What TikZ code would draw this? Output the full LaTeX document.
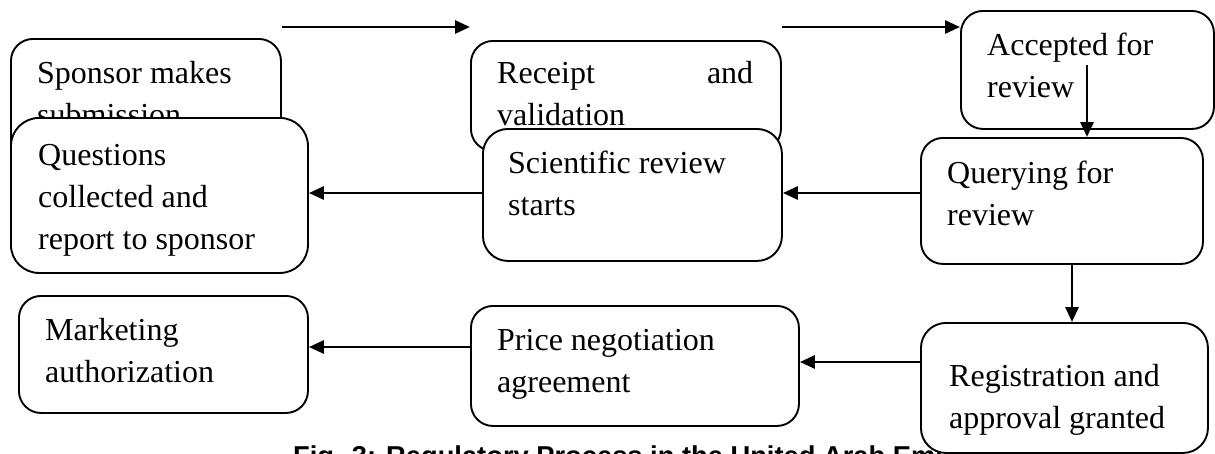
\documentclass[tikz,border=0pt]{standalone}
\usepackage{fontspec}
\setmainfont{Liberation Serif}
\newfontfamily\capfont{Liberation Sans}
\usetikzlibrary{arrows.meta}
\newcommand\stagelines[1]{\begin{tabular}[t]{@{}l@{}}#1\end{tabular}}
\begin{document}
\begin{tikzpicture}[x=1pt,y=-1pt,
  stage/.style={draw=black,line width=1.9pt,fill=white,rounded corners=22pt,
    inner sep=0pt,anchor=north west},
  stagetext/.style={anchor=base west,inner sep=0pt,font=\fontsize{32}{42}\selectfont},
  flow/.style={line width=2.8pt,-{Triangle[length=15pt,width=13pt]}}]
\useasboundingbox (0,0) rectangle (1215,453);

% caption (partly hidden behind the last box)
\node[anchor=base west,inner sep=0pt,font=\capfont\bfseries\fontsize{27.3}{30}\selectfont]
  (caption) at (293,465) {Fig. 3: Regulatory Process in the United Arab Emirates};

% first row, back layer
\node[stage,minimum width=270pt,minimum height=122pt] (spon) at (10,38) {};
\node[stagetext] (spon-t) at (37,83) {\stagelines{Sponsor makes\\submission}};
\node[stage,minimum width=310pt,minimum height=110pt] (rec) at (470,40) {};
\node[stagetext] (rec-t) at (497,83) {\stagelines{\makebox[256pt][s]{Receipt\hfill and}\\validation}};

% second row, overlapping the first
\node[stage,rounded corners=28pt,minimum width=297pt,minimum height=155pt] (ques) at (10,117) {};
\node[stagetext] (ques-t) at (38,165) {\stagelines{Questions\\collected and\\report to sponsor}};
\node[stage,rounded corners=25pt,minimum width=299pt,minimum height=132pt] (sci) at (482,128) {};
\node[stagetext] (sci-t) at (508,173) {\stagelines{Scientific review\\starts}};

% right column
\node[stage,minimum width=253pt,minimum height=118pt] (acc) at (960,10) {};
\node[stagetext] (acc-t) at (987,55) {\stagelines{Accepted for\\review}};
\node[stage,minimum width=282pt,minimum height=126pt] (qry) at (920,137) {};
\node[stagetext] (qry-t) at (947,183) {\stagelines{Querying for\\review}};

% bottom row
\node[stage,minimum width=289pt,minimum height=117pt] (mkt) at (18,295) {};
\node[stagetext] (mkt-t) at (45,340) {\stagelines{Marketing\\authorization}};
\node[stage,minimum width=328pt,minimum height=120pt] (prc) at (470,305) {};
\node[stagetext] (prc-t) at (497,350) {\stagelines{Price negotiation\\agreement}};
\node[stage,rounded corners=25pt,minimum width=287pt,minimum height=130pt] (reg) at (920,322) {};
\node[stagetext] (reg-t) at (949,386) {\stagelines{Registration and\\approval granted}};

% connector levels
\coordinate (toprow) at (0,27);
\coordinate (midrow) at (0,193);
\coordinate (accdrop) at (1087,65);
\coordinate (regdrop) at (1072,0);
\coordinate (lowrow) at (0,362);
\coordinate (mktrow) at (0,347);

% connectors
\draw[flow] (spon.east |- toprow) -- (rec.west |- toprow);
\draw[flow] (rec.east |- toprow) -- (acc.west |- toprow);
\draw[flow] (accdrop) -- (accdrop |- qry.north);
\draw[flow] (qry.west |- midrow) -- (sci.east |- midrow);
\draw[flow] (sci.west |- midrow) -- (ques.east |- midrow);
\draw[flow] (qry.south -| regdrop) -- (reg.north -| regdrop);
\draw[flow] (reg.west |- lowrow) -- (prc.east |- lowrow);
\draw[flow] (prc.west |- mktrow) -- (mkt.east |- mktrow);
\end{tikzpicture}
\end{document}
